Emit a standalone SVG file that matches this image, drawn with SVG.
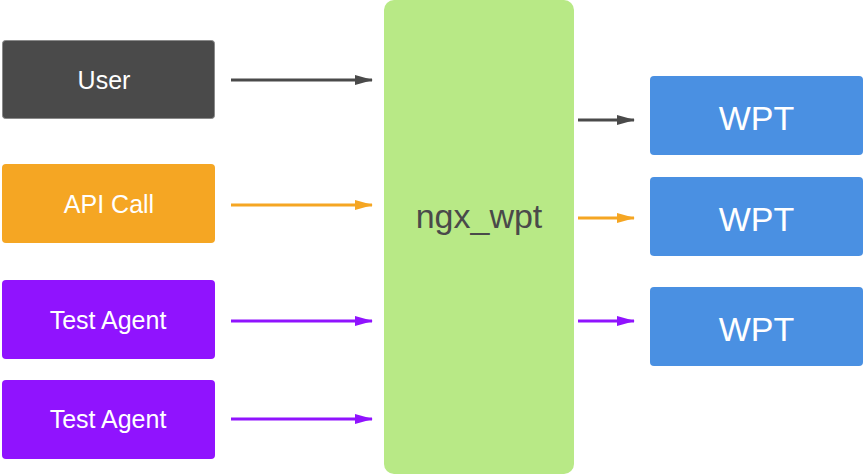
<svg xmlns="http://www.w3.org/2000/svg" width="863" height="475" viewBox="0 0 863 475">
<style>
text{font-family:"Liberation Sans",Arial,sans-serif;text-anchor:middle;}
.lbl{fill:#ffffff;font-size:25px;}
.wpt{fill:#ffffff;font-size:34px;}
.conn{stroke-width:3;fill:none;}
</style>
<defs>
<marker id="ah-dark" markerWidth="18" markerHeight="10" refX="17" refY="5" orient="auto" markerUnits="userSpaceOnUse"><path d="M0,0 L18,5 L0,10 Z" fill="#4a4a4a"/></marker>
<marker id="ah-orange" markerWidth="18" markerHeight="10" refX="17" refY="5" orient="auto" markerUnits="userSpaceOnUse"><path d="M0,0 L18,5 L0,10 Z" fill="#f5a623"/></marker>
<marker id="ah-purple" markerWidth="18" markerHeight="10" refX="17" refY="5" orient="auto" markerUnits="userSpaceOnUse"><path d="M0,0 L18,5 L0,10 Z" fill="#9013fe"/></marker>
</defs>
<rect width="863" height="475" fill="#ffffff"/>
<g id="user">
<rect x="2.5" y="40.5" width="212" height="78" rx="3" fill="#4a4a4a" stroke="#8a8a8a" stroke-width="1"/>
<text class="lbl" x="104" y="89">User</text>
</g>
<g id="api-call">
<rect x="2" y="164" width="213" height="79" rx="4" fill="#f5a623"/>
<text class="lbl" x="109" y="213">API Call</text>
</g>
<g id="test-agent-1">
<rect x="2" y="280" width="213" height="79" rx="4" fill="#9013fe"/>
<text class="lbl" x="108" y="329">Test Agent</text>
</g>
<g id="test-agent-2">
<rect x="2" y="380" width="213" height="79" rx="4" fill="#9013fe"/>
<text class="lbl" x="108" y="428">Test Agent</text>
</g>
<g id="ngx-wpt">
<rect x="384" y="0" width="190" height="474" rx="10" fill="#b8e986"/>
<text x="479" y="228" font-size="34" fill="#4a4a4a">ngx_wpt</text>
</g>
<g id="wpt-1">
<rect x="650" y="76" width="213" height="79" rx="4" fill="#4a90e2"/>
<text class="wpt" x="756.5" y="130">WPT</text>
</g>
<g id="wpt-2">
<rect x="650" y="177" width="213" height="79" rx="4" fill="#4a90e2"/>
<text class="wpt" x="756.5" y="231">WPT</text>
</g>
<g id="wpt-3">
<rect x="650" y="287" width="213" height="79" rx="4" fill="#4a90e2"/>
<text class="wpt" x="756.5" y="341">WPT</text>
</g>
<g id="connectors">
<line class="conn" x1="231" y1="80" x2="372" y2="80" stroke="#4a4a4a" marker-end="url(#ah-dark)"/>
<line class="conn" x1="231" y1="205" x2="372" y2="205" stroke="#f5a623" marker-end="url(#ah-orange)"/>
<line class="conn" x1="231" y1="321" x2="372" y2="321" stroke="#9013fe" marker-end="url(#ah-purple)"/>
<line class="conn" x1="231" y1="419" x2="372" y2="419" stroke="#9013fe" marker-end="url(#ah-purple)"/>
<line class="conn" x1="578" y1="120" x2="634" y2="120" stroke="#4a4a4a" marker-end="url(#ah-dark)"/>
<line class="conn" x1="578" y1="218" x2="634" y2="218" stroke="#f5a623" marker-end="url(#ah-orange)"/>
<line class="conn" x1="578" y1="321" x2="634" y2="321" stroke="#9013fe" marker-end="url(#ah-purple)"/>
</g>
</svg>
